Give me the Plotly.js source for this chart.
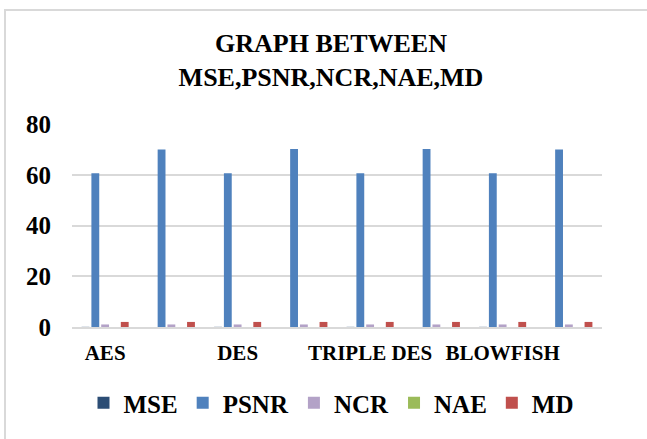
<!DOCTYPE html>
<html>
<head>
<meta charset="utf-8">
<script src="https://cdn.plot.ly/plotly-3.0.1.min.js"></script>
<style>
  html, body { margin: 0; padding: 0; background: #fff; }
  #wrap { position: relative; width: 647px; height: 439px; overflow: hidden; }
  #chart { width: 647px; height: 439px; }
  #frame { position: absolute; left: 4px; top: 9px; width: 700px; height: 500px;
           border-left: 2px solid #d9d9d9; border-top: 2px solid #d9d9d9; pointer-events: none; }
</style>
</head>
<body>
<div id="wrap">
  <div id="chart"></div>
  <div id="frame"></div>
</div>
<script>
// Categories (8 groups; Excel shows every other label)
const categories = ["AES", "AES-2", "DES", "DES-2", "TRIPLE DES", "TRIPLE DES-2", "BLOWFISH", "BLOWFISH-2"];
const tickLabels = ["AES", "", "DES", "", "TRIPLE DES", "", "BLOWFISH", ""];
const yTicks = [0, 20, 40, 60, 80];

// Series values
const mse  = [0.06, 0.007, 0.06, 0.007, 0.06, 0.007, 0.06, 0.007];
const psnr = [60.6, 70.0, 60.6, 70.1, 60.6, 70.1, 60.6, 70.0];
const ncr  = [1.0, 1.0, 1.0, 1.0, 1.0, 1.0, 1.0, 1.0];
const nae  = [0.01, 0.01, 0.01, 0.01, 0.01, 0.01, 0.01, 0.01];
const md   = [2.0, 2.0, 2.0, 2.0, 2.0, 2.0, 2.0, 2.0];

const seriesNames = ["MSE", "PSNR", "NCR", "NAE", "MD"];
const seriesValues = [mse, psnr, ncr, nae, md];
const seriesColors = ["#2c4d75", "#4f81bd", "#b3a2c7", "#9bbb59", "#c0504d"];

const FONT = "Liberation Serif";

const data = seriesNames.map((name, i) => ({
  type: "bar",
  name: name,
  x: categories,
  y: seriesValues[i],
  marker: { color: seriesColors[i] },
  hoverinfo: "name+y"
}));

const layout = {
  width: 647,
  height: 439,
  margin: { l: 72, r: 45, t: 124, b: 112 },
  paper_bgcolor: "#ffffff",
  plot_bgcolor: "#ffffff",
  barmode: "group",
  bargap: 0.26,
  bargroupgap: 0.2,
  showlegend: true,
  font: { family: FONT, color: "#000000" },
  title: {
    text: "<b>GRAPH BETWEEN<br>MSE,PSNR,NCR,NAE,MD</b>",
    font: { family: FONT, size: 26, color: "#000000" },
    x: 331 / 647,
    xref: "container",
    xanchor: "center",
    y: 1 - 52 / 439,
    yref: "container",
    yanchor: "middle"
  },
  xaxis: {
    type: "category",
    tickvals: categories,
    ticktext: tickLabels,
    tickfont: { family: FONT, size: 21, color: "#000000", weight: "bold" },
    showgrid: false,
    showline: true,
    linecolor: "#d9d9d9",
    linewidth: 2,
    ticks: "",
    ticklabelstandoff: 6,
    zeroline: false
  },
  yaxis: {
    range: [0, 80],
    tickvals: yTicks,
    ticktext: yTicks.map(String),
    tickfont: { family: FONT, size: 25, color: "#000000", weight: "bold" },
    showgrid: true,
    gridcolor: "#d9d9d9",
    gridwidth: 2,
    zeroline: false,
    showline: false,
    ticks: "",
    ticklabelstandoff: 20
  },
  legend: {
    orientation: "h",
    x: 331 / 647,
    xref: "container",
    xanchor: "center",
    y: 1 - 403 / 439,
    yref: "container",
    yanchor: "middle",
    font: { family: FONT, size: 25, color: "#000000", weight: "bold" },
    itemwidth: 30,
    traceorder: "normal"
  }
};

Plotly.newPlot("chart", data, layout, { displayModeBar: false, staticPlot: true });
</script>
</body>
</html>
